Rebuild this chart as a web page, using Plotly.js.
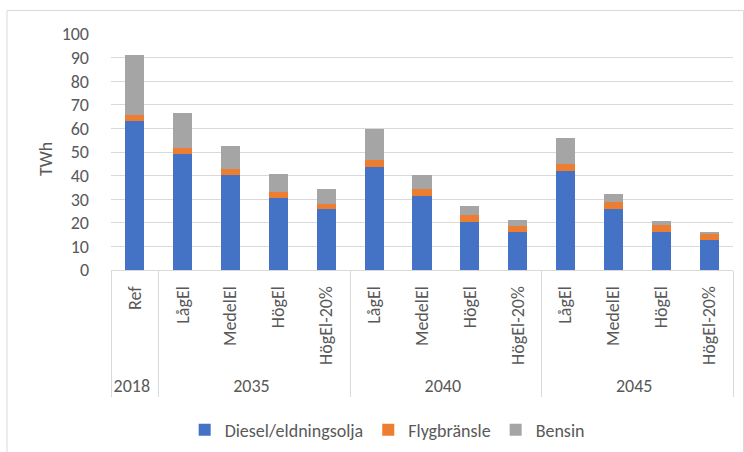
<!DOCTYPE html>
<html>
<head>
<meta charset="utf-8">
<script src="https://cdn.plot.ly/plotly-3.0.1.min.js"></script>
<style>
html,body{margin:0;padding:0;background:#fff;}
#chart{width:744px;height:452px;}
</style>
</head>
<body>
<div id="chart"></div>
<script>
const years = ["2018","2035","2035","2035","2035","2040","2040","2040","2040","2045","2045","2045","2045"];
const scenarios = ["Ref","LågEl","MedelEl","HögEl","HögEl-20%","LågEl","MedelEl","HögEl","HögEl-20%","LågEl","MedelEl","HögEl","HögEl-20%"];
const diesel = [63.3, 49.0, 40.1, 30.4, 25.7, 43.5, 31.4, 20.3, 16.1, 41.8, 25.8, 16.1, 12.7];
const flyg   = [2.2, 2.6, 2.6, 2.5, 2.2, 3.0, 2.8, 2.8, 2.5, 3.0, 3.0, 2.8, 2.4];
const bensin = [25.7, 15.1, 10.0, 7.6, 6.6, 13.2, 5.9, 3.9, 2.8, 11.3, 3.3, 1.7, 1.2];
const seriesNames = ["Diesel/eldningsolja","Flygbränsle","Bensin"];
const colors = ["#4472C4","#ED7D31","#A5A5A5"];
const yTitle = "TWh";

const x = [years, scenarios];
const fam = "Carlito, Calibri, 'Open Sans', sans-serif";
const font = {family: fam, size: 18, color: "#595959"};
const traces = [diesel, flyg, bensin].map((v, i) => ({
  type: "bar", x: x, y: v, name: seriesNames[i],
  marker: {color: colors[i]}, hoverinfo: "y"
}));

const layout = {
  width: 744, height: 452,
  margin: {l: 111, r: 11, t: 34, b: 182, autoexpand: false},
  barmode: "stack", bargap: 0.6,
  paper_bgcolor: "#fff", plot_bgcolor: "#fff",
  font: font,
  showlegend: true,
  legend: {orientation: "h", x: 0.444, xanchor: "center", y: -0.678, yanchor: "middle", font: font,
           traceorder: "normal", itemwidth: 30},
  xaxis: {type: "multicategory", tickangle: -90, showline: true, linecolor: "#d9d9d9", linewidth: 1,
          showdividers: true, dividercolor: "#d9d9d9", dividerwidth: 1, ticks: "", tickfont: font,
          ticklabelstandoff: 8},
  yaxis: {range: [0, 100], dtick: 10, showgrid: true, gridcolor: "#d9d9d9", gridwidth: 1,
          zeroline: false, showline: false, tickfont: font, ticks: "", ticklabelstandoff: 21},
  annotations: [{text: yTitle, xref: "paper", yref: "paper", x: (46 - 111) / 622, y: (270 - 159) / 236,
                 xanchor: "center", yanchor: "middle", textangle: -90, showarrow: false,
                 font: {family: fam, size: 18, color: "#595959"}}],
  shapes: [{type: "rect", xref: "paper", yref: "paper", x0: -0.1672, x1: 1.0169, y0: -0.9, y1: 1.0996,
            line: {color: "#d9d9d9", width: 1}, layer: "below"}]
};
Plotly.newPlot("chart", traces, layout, {displayModeBar: false, staticPlot: true});
</script>
</body>
</html>
